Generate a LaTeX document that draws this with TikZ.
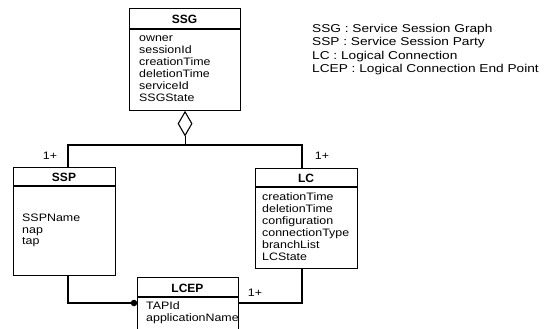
\documentclass[tikz,border=0pt]{standalone}
\usepackage{fontspec}
\setmainfont{Liberation Sans}
\newfontfamily\attrfamily{Liberation Sans}[FakeStretch=1.15]
\newfontfamily\legfamily{Liberation Sans}[FakeStretch=1.2]
\usetikzlibrary{shapes.geometric}
\begin{document}
\begin{tikzpicture}[x=1pt,y=-1pt,
  umlbox/.style={draw, line width=1.1pt, rectangle, inner sep=0pt, anchor=north west},
  conn/.style={draw, line width=1.1pt},
  ttl/.style={font=\fontsize{12}{14}\selectfont\bfseries, inner sep=0pt, anchor=base},
  attr/.style={font=\attrfamily\fontsize{10.8}{12}\selectfont, align=left, inner sep=0pt, anchor=north west},
  lbl/.style={font=\attrfamily\fontsize{10.8}{12}\selectfont, inner sep=0pt},
  leg/.style={font=\legfamily\fontsize{11.4}{13.5}\selectfont, align=left, inner sep=0pt, anchor=north west}
]
\useasboundingbox (0,0) rectangle (547,329);
\clip (0,0) rectangle (547,329);

% SSG
\node[umlbox, minimum width=111pt, minimum height=102pt] (ssg) at (129,8) {};
\draw[conn] ([yshift=-21pt]ssg.north west) -- ([yshift=-21pt]ssg.north east);
\node[ttl] (ssgt) at (184.5,24) {SSG};
\node[attr] (ssga) at (139,33.3) {\strut owner\\sessionId\\creationTime\\deletionTime\\serviceId\\SSGState};

% SSP
\node[umlbox, minimum width=102pt, minimum height=108pt] (ssp) at (13,167) {};
\draw[conn] ([yshift=-19pt]ssp.north west) -- ([yshift=-19pt]ssp.north east);
\node[ttl] (sspt) at (64,181.5) {SSP};
\node[attr, font=\attrfamily\fontsize{10.8}{11.5}\selectfont] (sspa) at (22,213.3) {\strut SSPName\\nap\\tap};

% LC
\node[umlbox, minimum width=102pt, minimum height=100pt] (lc) at (255,168) {};
\draw[conn] ([yshift=-19pt]lc.north west) -- ([yshift=-19pt]lc.north east);
\node[ttl] (lct) at (306,182.5) {LC};
\node[attr] (lca) at (262,192.3) {\strut creationTime\\deletionTime\\configuration\\connectionType\\branchList\\LCState};

% LCEP
\node[umlbox, minimum width=101pt, minimum height=70pt] (lcep) at (137,277) {};
\draw[conn] ([yshift=-20pt]lcep.north west) -- ([yshift=-20pt]lcep.north east);
\node[ttl] (lcept) at (187.5,292) {LCEP};
\node[attr] (lcepa) at (146,300.6) {\strut TAPId\\applicationName};

% aggregation
\node[diamond, draw, line width=1.1pt, fill=white, minimum width=14pt, minimum height=24pt, inner sep=0pt, anchor=north] (agg) at (ssg.south) {};
\coordinate (jl) at (68,145);
\coordinate (jr) at (302,145);
\draw[conn] (agg.south) |- (jl) -- (jl |- ssp.north);
\draw[conn] (agg.south) |- (jr) -- (jr |- lc.north);

% LCEP links
\coordinate (lw) at ([yshift=-26pt]lcep.north west);
\coordinate (le) at ([yshift=-26pt]lcep.north east);
\draw[conn] (jl |- ssp.south) |- (lw);
\node[circle, fill, inner sep=0pt, minimum size=6.5pt] (dot) at ([xshift=-3pt]lw) {};
\draw[conn] (jr |- lc.south) |- (le);

% multiplicities
\node[lbl] (m1) at (50,156) {1+};
\node[lbl] (m2) at (322,156) {1+};
\node[lbl] (m3) at (255,293) {1+};

% legend
\node[leg] (legend) at (312,22.5) {\strut SSG : Service Session Graph\\SSP : Service Session Party\\LC : Logical Connection\\LCEP : Logical Connection End Point};
\end{tikzpicture}
\end{document}
